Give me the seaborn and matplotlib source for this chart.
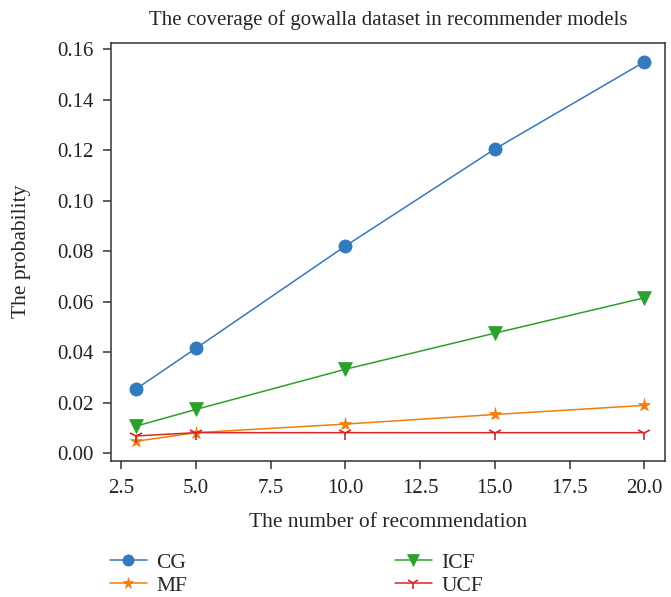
import matplotlib
matplotlib.use("Agg")
import matplotlib.pyplot as plt
import seaborn as sns
import pandas as pd

# Coverage of the gowalla dataset for each recommender model
n_rec = [3, 5, 10, 15, 20]
cg = [0.0255, 0.0416, 0.0821, 0.1205, 0.155]
mf = [0.0048, 0.0082, 0.0116, 0.0154, 0.0190]
icf = [0.0108, 0.0174, 0.0333, 0.0476, 0.0616]
ucf = [0.0069, 0.0082, 0.0082, 0.0082, 0.0082]

models = ["CG", "MF", "ICF", "UCF"]
series = [cg, mf, icf, ucf]
colors = ["#3379bd", "#f07e0c", "#2ca02c", "#d62728"]
markers = ["o", "*", "v", "1"]
msizes = [9.5, 9.5, 10.5, 10]

sns.set_style("ticks")
plt.rcParams["font.family"] = ["Liberation Serif", "DejaVu Serif"]
plt.rcParams["axes.edgecolor"] = "#333333"
plt.rcParams["xtick.color"] = "#333333"
plt.rcParams["ytick.color"] = "#333333"
plt.rcParams["xtick.labelcolor"] = "#222222"
plt.rcParams["ytick.labelcolor"] = "#222222"

df = pd.DataFrame({
    "n": n_rec * len(models),
    "p": [v for s in series for v in s],
    "model": [m for m in models for _ in n_rec],
})

fig = plt.figure(figsize=(6.71, 5.97), dpi=100)
ax = fig.add_axes([0.165, 0.2283, 0.8265, 0.7002])

for m, c, mk, ms in zip(models, colors, markers, msizes):
    sub = df[df["model"] == m]
    sns.lineplot(data=sub, x="n", y="p", color=c, marker=mk, markersize=ms,
                 markeredgecolor=c, markeredgewidth=1.2 if mk == "1" else 0.5,
                 linewidth=1.1, label=m, ax=ax)

ax.set_xticks([2.5, 5.0, 7.5, 10.0, 12.5, 15.0, 17.5, 20.0])
ax.set_xticklabels(["2.5", "5.0", "7.5", "10.0", "12.5", "15.0", "17.5", "20.0"])
ax.set_yticks([0.0, 0.02, 0.04, 0.06, 0.08, 0.10, 0.12, 0.14, 0.16])
ax.set_yticklabels(["0.00", "0.02", "0.04", "0.06", "0.08", "0.10", "0.12", "0.14", "0.16"])
ax.tick_params(axis="both", labelsize=15, length=6, width=1.1, direction="out")
ax.tick_params(axis="x", pad=7)
ax.tick_params(axis="y", pad=6)
ax.set_xlim(2.15, 20.7)
ax.set_ylim(-0.0029, 0.1626)
for sp in ax.spines.values():
    sp.set_linewidth(1.1)

ax.set_xlabel("The number of recommendation", fontsize=15.5, labelpad=11)
ax.set_ylabel("The probability", fontsize=15.5, labelpad=19)
ax.set_title("The coverage of gowalla dataset in recommender models", fontsize=15, pad=13)

handles, labels = ax.get_legend_handles_labels()
ax.get_legend().remove()
fig.legend(handles, labels,
           loc="upper left", bbox_to_anchor=(0.164, 0.074),
           ncol=2, frameon=False, fontsize=15.5, handlelength=1.7,
           handletextpad=0.45, columnspacing=9.65, labelspacing=0.12,
           markerscale=0.85, borderaxespad=0.0, borderpad=0.0)

fig.savefig("out.png", dpi=100)
